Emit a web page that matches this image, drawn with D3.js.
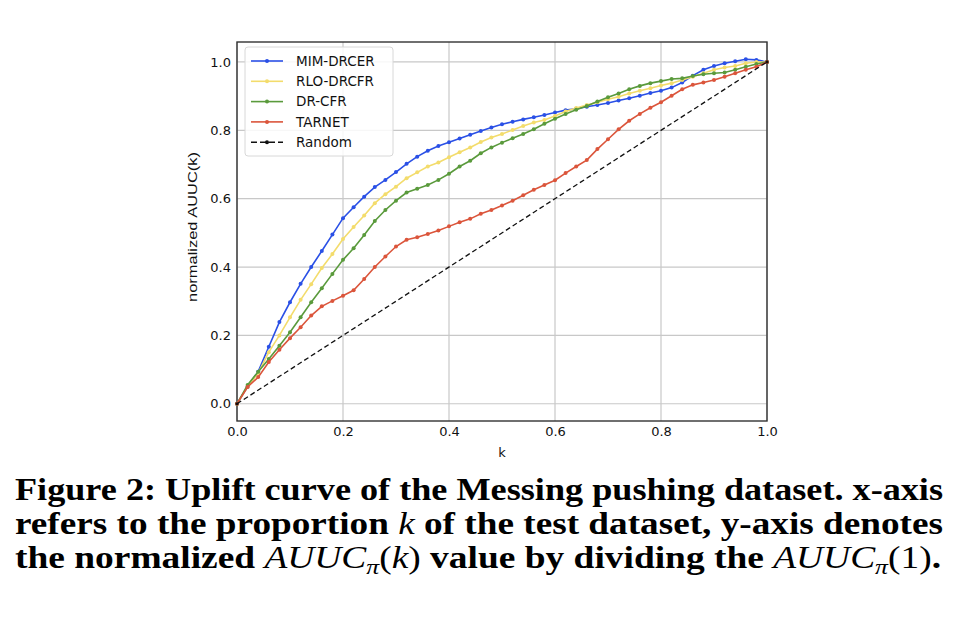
<!DOCTYPE html>
<html>
<head>
<meta charset="utf-8">
<script src="https://cdn.jsdelivr.net/npm/d3@7"></script>
<style>
  body { margin: 0; background: #fff; }
</style>
</head>
<body>
<script>
// proportion k of the test set
var ks = [0.00, 0.02, 0.04, 0.06, 0.08, 0.10, 0.12, 0.14, 0.16, 0.18,
          0.20, 0.22, 0.24, 0.26, 0.28, 0.30, 0.32, 0.34, 0.36, 0.38,
          0.40, 0.42, 0.44, 0.46, 0.48, 0.50, 0.52, 0.54, 0.56, 0.58,
          0.60, 0.62, 0.64, 0.66, 0.68, 0.70, 0.72, 0.74, 0.76, 0.78,
          0.80, 0.82, 0.84, 0.86, 0.88, 0.90, 0.92, 0.94, 0.96, 0.98, 1.00];

var mimDrcer = [0, 0.050, 0.094, 0.167, 0.239, 0.297, 0.351, 0.400, 0.447, 0.495,
                0.543, 0.575, 0.606, 0.634, 0.655, 0.678, 0.702, 0.723, 0.740, 0.754,
                0.765, 0.776, 0.787, 0.798, 0.808, 0.818, 0.825, 0.832, 0.838, 0.845,
                0.852, 0.859, 0.863, 0.869, 0.874, 0.880, 0.887, 0.894, 0.901, 0.909,
                0.916, 0.925, 0.940, 0.960, 0.977, 0.988, 0.996, 1.002, 1.008, 1.006, 1.0];

var rloDrcfr = [0, 0.050, 0.090, 0.151, 0.200, 0.253, 0.304, 0.350, 0.397, 0.438,
                0.482, 0.517, 0.551, 0.587, 0.613, 0.635, 0.660, 0.677, 0.694, 0.706,
                0.721, 0.736, 0.750, 0.766, 0.779, 0.789, 0.801, 0.813, 0.823, 0.830,
                0.842, 0.855, 0.865, 0.874, 0.882, 0.891, 0.898, 0.908, 0.916, 0.923,
                0.931, 0.938, 0.947, 0.957, 0.967, 0.977, 0.984, 0.988, 0.996, 1.000, 1.0];

var drCfr = [0, 0.055, 0.094, 0.131, 0.170, 0.209, 0.253, 0.297, 0.338, 0.380,
             0.421, 0.455, 0.494, 0.535, 0.567, 0.594, 0.618, 0.629, 0.640, 0.655,
             0.673, 0.694, 0.711, 0.733, 0.750, 0.764, 0.777, 0.789, 0.803, 0.819,
             0.834, 0.848, 0.860, 0.871, 0.884, 0.897, 0.908, 0.920, 0.930, 0.938,
             0.944, 0.950, 0.952, 0.959, 0.964, 0.967, 0.969, 0.977, 0.986, 0.994, 1.0];

var tarnet = [0, 0.049, 0.078, 0.122, 0.158, 0.192, 0.224, 0.258, 0.285, 0.301,
              0.316, 0.332, 0.365, 0.400, 0.431, 0.460, 0.480, 0.487, 0.497, 0.507,
              0.519, 0.531, 0.541, 0.556, 0.567, 0.580, 0.594, 0.610, 0.626, 0.640,
              0.654, 0.675, 0.694, 0.713, 0.745, 0.774, 0.803, 0.828, 0.848, 0.866,
              0.882, 0.901, 0.920, 0.933, 0.940, 0.947, 0.957, 0.967, 0.977, 0.986, 1.0];

var randomK = [0, 1];
var randomV = [0, 1];

var seriesNames = ["MIM-DRCER", "RLO-DRCFR", "DR-CFR", "TARNET", "Random"];
var seriesColors = ["#2a50e6", "#f3dc6c", "#5a9a3c", "#db553b", "#111111"];

var xTicks = [0.0, 0.2, 0.4, 0.6, 0.8, 1.0];
var yTicks = [0.0, 0.2, 0.4, 0.6, 0.8, 1.0];

var width = 978;
var height = 618;

var svg = d3.select("body")
    .append("svg")
        .attr("width", width)
        .attr("height", height);

var x = d3.scaleLinear().domain([0, 1]).range([237, 767]);
var y = d3.scaleLinear().domain([-0.0504, 1.0584]).range([421, 42]);

// grid
svg.append("g")
    .selectAll("line.gx")
    .data(xTicks)
    .enter().append("line")
      .attr("x1", function (d) { return x(d); })
      .attr("x2", function (d) { return x(d); })
      .attr("y1", y.range()[0])
      .attr("y2", y.range()[1])
      .attr("stroke", "#c8c8c8")
      .attr("stroke-width", 1.2);

svg.append("g")
    .selectAll("line.gy")
    .data(yTicks)
    .enter().append("line")
      .attr("x1", x.range()[0])
      .attr("x2", x.range()[1])
      .attr("y1", function (d) { return y(d); })
      .attr("y2", function (d) { return y(d); })
      .attr("stroke", "#c8c8c8")
      .attr("stroke-width", 1.2);

// axes
var xAxis = svg.append("g")
    .attr("transform", "translate(0," + y.range()[0] + ")")
    .call(d3.axisBottom(x).tickValues(xTicks).tickFormat(d3.format(".1f")).tickSize(0).tickPadding(6));
var yAxis = svg.append("g")
    .attr("transform", "translate(" + x.range()[0] + ",0)")
    .call(d3.axisLeft(y).tickValues(yTicks).tickFormat(d3.format(".1f")).tickSize(0).tickPadding(6));

[xAxis, yAxis].forEach(function (g) {
  g.select(".domain").remove();
  g.selectAll("text")
    .attr("font-family", "DejaVu Sans")
    .attr("font-size", 13)
    .attr("fill", "#111");
});

// frame
svg.append("rect")
    .attr("x", x.range()[0])
    .attr("y", y.range()[1])
    .attr("width", x.range()[1] - x.range()[0])
    .attr("height", y.range()[0] - y.range()[1])
    .attr("fill", "none")
    .attr("stroke", "#333")
    .attr("stroke-width", 1.4);

svg.append("text")
    .attr("x", (x.range()[0] + x.range()[1]) / 2)
    .attr("y", 457)
    .attr("text-anchor", "middle")
    .attr("font-family", "DejaVu Sans")
    .attr("font-size", 13)
    .attr("fill", "#111")
    .text("k");

svg.append("text")
    .attr("transform", "translate(197,227) rotate(-90)")
    .attr("x", -75)
    .attr("textLength", 150)
    .attr("lengthAdjust", "spacingAndGlyphs")
    .attr("font-family", "Liberation Sans")
    .attr("font-size", 13)
    .attr("fill", "#111")
    .text("normalized AUUC(k)");

// curves
var line = d3.line()
    .x(function (d) { return x(d[0]); })
    .y(function (d) { return y(d[1]); });

var allValues = [mimDrcer, rloDrcfr, drCfr, tarnet];
var plotG = svg.append("g");

allValues.forEach(function (vals, i) {
  var pts = ks.map(function (k, j) { return [k, vals[j]]; });
  plotG.append("path")
      .datum(pts)
      .attr("fill", "none")
      .attr("stroke", seriesColors[i])
      .attr("stroke-width", 1.6)
      .attr("d", line);
  plotG.selectAll("circle.s" + i)
      .data(pts)
      .enter().append("circle")
        .attr("cx", function (d) { return x(d[0]); })
        .attr("cy", function (d) { return y(d[1]); })
        .attr("r", 2)
        .attr("fill", seriesColors[i]);
});

var rpts = randomK.map(function (k, j) { return [k, randomV[j]]; });
plotG.append("path")
    .datum(rpts)
    .attr("fill", "none")
    .attr("stroke", seriesColors[4])
    .attr("stroke-width", 1.3)
    .attr("stroke-dasharray", "5,3")
    .attr("d", line);
plotG.selectAll("circle.r")
    .data(rpts)
    .enter().append("circle")
      .attr("cx", function (d) { return x(d[0]); })
      .attr("cy", function (d) { return y(d[1]); })
      .attr("r", 1.6)
      .attr("fill", seriesColors[4]);

// legend
var legend = svg.append("g").attr("transform", "translate(245,47)");
legend.append("rect")
    .attr("width", 148)
    .attr("height", 109)
    .attr("rx", 3)
    .attr("fill", "#fff")
    .attr("fill-opacity", 0.85)
    .attr("stroke", "#d8d8d8");

seriesNames.forEach(function (name, i) {
  var yy = 14 + i * 20.3;
  legend.append("line")
      .attr("x1", 6).attr("x2", 38)
      .attr("y1", yy).attr("y2", yy)
      .attr("stroke", seriesColors[i])
      .attr("stroke-width", 1.6)
      .attr("stroke-dasharray", i === 4 ? "6,3" : null);
  legend.append("circle")
      .attr("cx", 22).attr("cy", yy).attr("r", 2)
      .attr("fill", seriesColors[i]);
  legend.append("text")
      .attr("x", 51)
      .attr("y", yy + 4.8)
      .attr("font-family", "DejaVu Sans")
      .attr("font-size", 13.5)
      .attr("fill", "#111")
      .text(name);
});

// caption
var cap = svg.append("g")
    .attr("font-family", "Liberation Serif")
    .attr("font-size", 32)
    .attr("font-weight", "bold")
    .attr("fill", "#000");

var t1 = cap.append("text").attr("x", 15).attr("y", 500)
    .attr("textLength", 928).attr("lengthAdjust", "spacingAndGlyphs");
t1.append("tspan").text("Figure 2: Uplift curve of the Messing pushing dataset. x-axis");

var t2 = cap.append("text").attr("x", 15).attr("y", 534)
    .attr("textLength", 928).attr("lengthAdjust", "spacingAndGlyphs");
t2.append("tspan").text("refers to the proportion ");
t2.append("tspan").attr("font-style", "italic").attr("font-weight", "normal").text("k");
t2.append("tspan").text(" of the test dataset, y-axis denotes");

var t3 = cap.append("text").attr("x", 15).attr("y", 568)
    .attr("textLength", 926).attr("lengthAdjust", "spacingAndGlyphs");
t3.append("tspan").text("the normalized ");
t3.append("tspan").attr("font-style", "italic").attr("font-weight", "normal").text("AUUC");
t3.append("tspan").attr("font-style", "italic").attr("font-weight", "normal").attr("font-size", 22).attr("dy", 6).text("π");
t3.append("tspan").attr("font-weight", "normal").attr("dy", -6).text("(");
t3.append("tspan").attr("font-style", "italic").attr("font-weight", "normal").text("k");
t3.append("tspan").attr("font-weight", "normal").text(")");
t3.append("tspan").text(" value by dividing the ");
t3.append("tspan").attr("font-style", "italic").attr("font-weight", "normal").text("AUUC");
t3.append("tspan").attr("font-style", "italic").attr("font-weight", "normal").attr("font-size", 22).attr("dy", 6).text("π");
t3.append("tspan").attr("font-weight", "normal").attr("dy", -6).text("(1)");
t3.append("tspan").text(".");
</script>
</body>
</html>
